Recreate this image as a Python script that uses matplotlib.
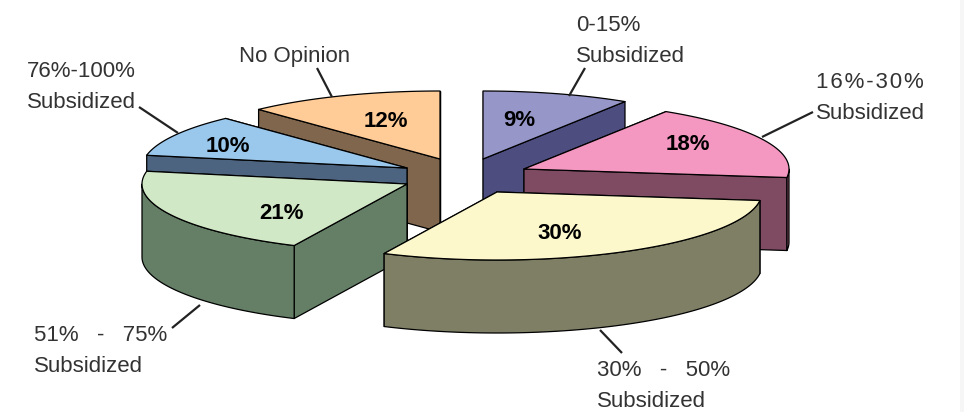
import numpy as np
import matplotlib
matplotlib.use('Agg')
import matplotlib.pyplot as plt

# slices, clockwise from 12 o'clock
labels = ['0-15%\nSubsidized', '1\u200a6\u200a%\u200a-\u200a3\u200a0\u200a%\nSubsidized',
          '30%   -   50%\nSubsidized', '51%   -   75%\nSubsidized',
          '76%-100%\nSubsidized', 'No Opinion']
shares = [9, 18, 30, 21, 10, 12]
top_colors = ['#9696C8', '#F497C1', '#FCF8CC', '#D1E8C6', '#9AC7EC', '#FFCB96']
side_colors = ['#4D4D80', '#7F4B63', '#7F7F66', '#647F66', '#4D6480', '#7F664D']

# layout in pixels: where each exploded slice has its point
apex_x = [483, 524, 497, 407, 407, 440]
apex_y = [159, 169, 192, 184, 168, 159]
label_x = [576, 816, 597, 34, 27, 239]
label_y = [31, 88, 376, 341, 77, 62]
pct_x = [519, 688, 560, 281, 228, 386]
pct_y = [119, 143, 232, 212, 146, 120]
leaders = [((569, 96), (585, 68)), ((762, 137), (813, 112)), ((600, 330), (622, 353)),
           ((200, 305), (172, 328)), ((178, 133), (139, 107)), ((332, 97), (317, 68))]
draw_order = [5, 4, 0, 1, 3, 2]

RX, RY, DEPTH = 265, 68, 73

plt.rcParams['font.family'] = ['Liberation Sans', 'DejaVu Sans']

fig = plt.figure(figsize=(9.64, 4.12), dpi=100)
ax = fig.add_axes([0, 0, 1, 1])
ax.set_xlim(0, 964)
ax.set_ylim(412, 0)
ax.axis('off')
ax.axvspan(960, 964, color='#F6F6F6', lw=0)


def rim(cx, cy, a0, a1, n=80):
    t = np.radians(np.linspace(a0, a1, n))
    return np.column_stack([cx + RX * np.sin(t), cy - RY * np.cos(t)])


def face(pts, color):
    ax.fill(pts[:, 0], pts[:, 1], facecolor=color, edgecolor='black', lw=0.9, joinstyle='round')


ends = np.cumsum(shares) / np.sum(shares) * 360
starts = np.concatenate([[0], ends[:-1]])
drop = np.array([0, DEPTH])

for i in draw_order:
    a0, a1 = starts[i], ends[i]
    apex = np.array([apex_x[i], apex_y[i]], dtype=float)
    arc = rim(apex[0], apex[1], a0, a1)

    # the two cut faces, the one nearer the back first
    cuts = sorted([arc[0], arc[-1]], key=lambda p: p[1])
    for p in cuts:
        face(np.array([apex, p, p + drop, apex + drop]), side_colors[i])

    # outer wall, only the part that faces us
    lo, hi = max(a0, 90), min(a1, 270)
    if hi > lo:
        wall = rim(apex[0], apex[1], lo, hi)
        face(np.vstack([wall, (wall + drop)[::-1]]), side_colors[i])

    face(np.vstack([apex, arc]), top_colors[i])

    ax.text(pct_x[i], pct_y[i] + 1, f'{shares[i]}%', ha='center', va='center', fontsize=16,
            fontweight='bold', color='black')

    (x0, y0), (x1, y1) = leaders[i]
    ax.plot([x0, x1], [y0, y1], color='#222222', lw=1.6, solid_capstyle='butt')

    for k, line in enumerate(labels[i].split('\n')):
        ax.text(label_x[i], label_y[i] + k * 31, line, ha='left', va='baseline',
                fontsize=16, color='#333333')

fig.savefig('out.png', dpi=100)
